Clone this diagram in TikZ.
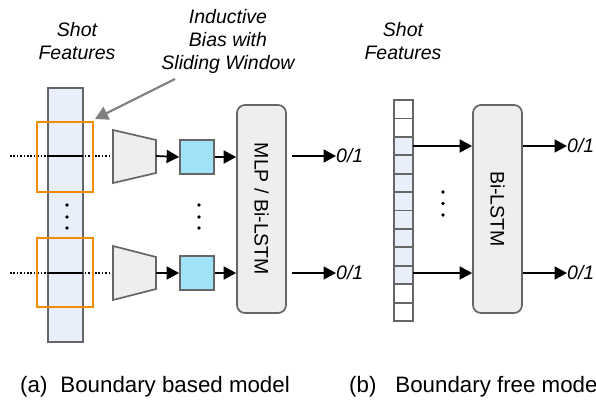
\documentclass[tikz,border=0pt]{standalone}
\usepackage{fontspec}
\setmainfont{Liberation Sans}
\usetikzlibrary{arrows.meta}
\definecolor{colfill}{HTML}{E8EEFA}
\definecolor{edge}{HTML}{666666}
\definecolor{orng}{HTML}{F28C00}
\definecolor{sq}{HTML}{A0E2F8}
\definecolor{boxfill}{HTML}{EEEEEE}
\definecolor{annot}{HTML}{808080}
\tikzset{
  txt/.style={font=\fontsize{19.5}{23}\selectfont, align=center, inner sep=0pt},
  itxt/.style={txt, font=\fontsize{19.5}{23}\selectfont\itshape},
  captxt/.style={font=\fontsize{22.3}{26}\selectfont, inner sep=0pt},
  colbox/.style={draw=edge, fill=colfill, line width=1.8pt},
  win/.style={draw=orng, line width=2.4pt},
  sqbox/.style={draw=edge, fill=sq, line width=1.7pt, minimum width=34pt, minimum height=34pt, inner sep=0pt},
  bigbox/.style={draw=edge, fill=boxfill, line width=1.7pt, rounded corners=8pt, minimum width=49pt, minimum height=208pt, inner sep=0pt},
  trap/.style={draw=edge, fill=boxfill, line width=1.7pt},
  arr/.style={line width=1.7pt, -{Triangle[length=12.5pt,width=13pt]}},
  dotline/.style={line width=1.6pt, dash pattern=on 1.6pt off 1.8pt},
  cell/.style={draw=edge, line width=1.8pt},
}
\begin{document}
\begin{tikzpicture}[x=1pt,y=-1pt]
\path[use as bounding box, clip] (0,0) rectangle (596,401);
\fill[white] (0,0) rectangle (596,401);

% ---------- (a) ----------
\node[itxt] (sfa) at (77,41.5) {Shot\\Features};
\node[itxt] (ib) at (228,41.5) {Inductive\\Bias with\\Sliding Window};

\draw[colbox] (48,88) rectangle (83,342);

% dotted lines through column
\draw[dotline] (10,156) -- (112,156);
\draw[line width=1.5pt] (48,156) -- (83,156);
\draw[dotline] (10,273) -- (112,273);
\draw[line width=1.5pt] (48,273) -- (83,273);

\node[win, minimum width=56pt, minimum height=70pt, inner sep=0pt] (w1) at (65,157) {};
\node[win, minimum width=56pt, minimum height=69pt, inner sep=0pt] (w2) at (65,272.5) {};

% trapezoids
\draw[trap] (113,130) -- (156,140) -- (156,173) -- (113,183) -- cycle;
\coordinate (t1) at (156,156);
\draw[trap] (113,246) -- (156,257) -- (156,289) -- (113,300) -- cycle;
\coordinate (t2) at (156,273);

\node[sqbox] (s1) at (197,157) {};
\node[sqbox] (s2) at (197,273) {};

\node[bigbox] (mlp) at (261.5,209) {};
\node[txt, rotate=-90] at (mlp.center) {MLP / Bi-LSTM};

\draw[arr] (t1) -- (s1.west);
\draw[arr] (t2) -- (s2.west);
\draw[arr] (s1.east) -- (mlp.west |- s1.east);
\draw[arr] (s2.east) -- (mlp.west |- s2.east);

\coordinate (o1s) at (292,156);
\coordinate (o2s) at (292,273);
\node[itxt, anchor=west] (o1) at (336,156) {0/1};
\node[itxt, anchor=west] (o2) at (336,273) {0/1};
\draw[arr] (o1s) -- (o1.west);
\draw[arr] (o2s) -- (o2.west);

% vertical dots
\foreach \yy in {205,217,228} {
  \fill (67,\yy) circle (1.8pt);
  \fill (199,\yy) circle (1.8pt);
}

% annotation arrow
\coordinate (ibs) at (175,79);
\draw[annot, line width=2.2pt, -{Triangle[length=13pt,width=14pt]}] (ibs) -- (95,119);

% ---------- (b) ----------
\node[itxt] (sfb) at (403,41.5) {Shot\\Features};
\foreach \i in {0,...,11} {
  \pgfmathsetmacro{\ya}{100+\i*18.42}
  \pgfmathsetmacro{\yb}{100+(\i+1)*18.42}
  \ifnum\i<2
    \draw[cell, fill=white] (394,\ya) rectangle (413,\yb);
  \else\ifnum\i>9
    \draw[cell, fill=white] (394,\ya) rectangle (413,\yb);
  \else
    \draw[cell, fill=colfill] (394,\ya) rectangle (413,\yb);
  \fi\fi
}
\coordinate (c3) at (413,146);
\coordinate (c10) at (413,273);

\node[bigbox] (lstm) at (497.5,209) {};
\node[txt, rotate=-90] at (lstm.center) {Bi-LSTM};

\draw[arr] (c3) -- (lstm.west |- c3);
\draw[arr] (c10) -- (lstm.west |- c10);

\node[itxt, anchor=west] (p1) at (567,146) {0/1};
\node[itxt, anchor=west] (p2) at (567,273) {0/1};
\draw[arr] (lstm.east |- p1) -- (p1.west);
\draw[arr] (lstm.east |- p2) -- (p2.west);

\foreach \yy in {192,203.5,215} {
  \fill (443,\yy) circle (1.8pt);
}

% captions
\node[captxt, anchor=west] (capa) at (20,387) {(a)\hspace{13pt}Boundary based model};
\node[captxt, anchor=west] (capb) at (349,387) {(b)\hspace{19pt}Boundary free model};
\end{tikzpicture}
\end{document}
